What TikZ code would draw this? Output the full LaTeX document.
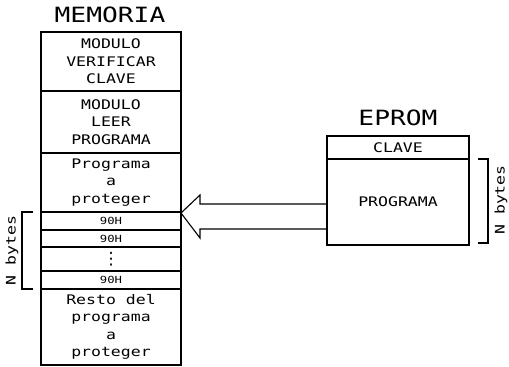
\documentclass[tikz,border=0pt]{standalone}
\usepackage{fontspec}
\newfontfamily\plot[FakeStretch=1.25]{DejaVu Sans Mono}
\newfontfamily\dvs{DejaVu Sans}
\usetikzlibrary{calc}
\tikzset{
  cell/.style={draw, line width=1.1pt, rectangle, inner sep=0pt, outer sep=0pt,
    minimum width=140pt, align=center, font=\plot\fontsize{13.2}{17.5}\selectfont},
  ecell/.style={cell, minimum width=142pt},
  rowcell/.style={cell, font=\plot\fontsize{9.8}{10}\selectfont},
  title/.style={inner sep=0pt, font=\plot\fontsize{21}{22}\selectfont},
  lbl/.style={inner sep=0pt, rotate=90, font=\plot\fontsize{13.2}{14}\selectfont},
  conn/.style={line width=1.1pt},
}
\begin{document}
\begin{tikzpicture}[x=1pt,y=-1pt]
\useasboundingbox (0,0) rectangle (509,367);
% MEMORIA
\node[title] (mt) at (110,15) {MEMORIA};
\node[cell, minimum height=59pt] (c1) at (111,61.5) {MODULO\\VERIFICAR\\CLAVE};
\node[cell, minimum height=62pt] (c2) at (111,122) {MODULO\\LEER\\PROGRAMA};
\node[cell, minimum height=59pt] (c3) at (111,182.5) {Programa\\a\\proteger};
\node[rowcell, minimum height=18pt] (r1) at (111,221) {90H};
\node[rowcell, minimum height=17pt] (r2) at (111,238.5) {90H};
\node[cell, minimum height=24pt, font=\dvs\fontsize{17}{17}\selectfont] (r3) at (111,259) {⋮};
\node[rowcell, minimum height=18pt] (r4) at (111,280) {90H};
\node[cell, minimum height=76pt] (c4) at (111,327) {Resto del\\programa\\a\\proteger};
% bracket left
\coordinate (b1) at ($(r1.north west)+(-8,0)$);
\coordinate (b2) at ($(r4.south west)+(-8,0)$);
\draw[conn] (b1) -- ++(-11,0) coordinate (b1a) -- (b1a |- b2) -- (b2);
\node[lbl] (nb1) at (12,250.5) {N bytes};
% EPROM
\node[title] (et) at (398,118) {EPROM};
\node[ecell, minimum height=23pt] (e1) at (398,147.5) {\raisebox{-2pt}{CLAVE}};
\node[ecell, minimum height=86pt] (e2) at (398,202) {PROGRAMA};
% bracket right
\coordinate (d1) at ($(e2.north east)+(9,0)$);
\coordinate (d2) at ($(e2.south east)+(9,-2)$);
\draw[conn] (d1) -- ++(10,0) coordinate (d1a) -- (d1a |- d2) -- (d2);
\node[lbl] (nb2) at (501,200) {N bytes};
% arrow
\coordinate (tip) at ($(c3.south east)+(0,1)$);
\draw[conn, line join=miter] (e2.west |- 0,204) -- (200,204) -- (200,195) -- (tip)
  -- (200,238) -- (200,229) -- (e2.west |- 0,229);
\end{tikzpicture}
\end{document}
